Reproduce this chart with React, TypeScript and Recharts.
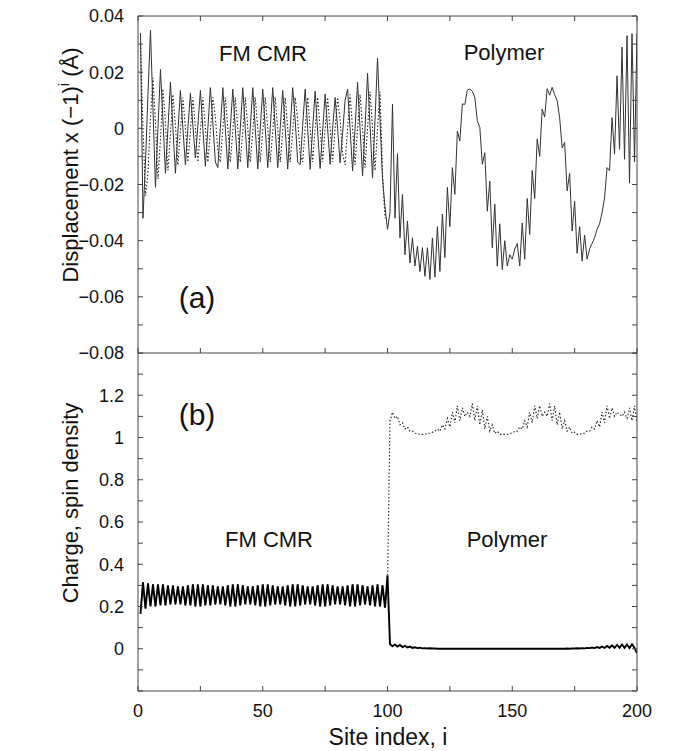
import React from 'react';
import { LineChart, Line, XAxis, YAxis } from 'recharts';

const FONT = '"Liberation Sans", Arial, Helvetica, sans-serif';
const AXIS = '#444';

// site index i = 1..200
const sites = Array.from({ length: 200 }, (_, i) => i + 1);
const siteTicks = [0, 25, 50, 75, 100, 125, 150, 175, 200];
const siteLabels = [0, 50, 100, 150, 200];

const dispTicks = [-0.08, -0.07, -0.06, -0.05, -0.04, -0.03, -0.02, -0.01, 0, 0.01, 0.02, 0.03, 0.04];
const dispLabels = [-0.08, -0.06, -0.04, -0.02, 0, 0.02, 0.04];
const densTicks = [-0.2, -0.1, 0, 0.1, 0.2, 0.3, 0.4, 0.5, 0.6, 0.7, 0.8, 0.9, 1, 1.1, 1.2, 1.3, 1.4];
const densLabels = [0, 0.2, 0.4, 0.6, 0.8, 1, 1.2];

// panel (a): displacement x (-1)^i, solid curve
const dispSolid = [
  0.034, -0.032, -0.012, 0.012, 0.035, 0.007, -0.021, 0.0, 0.021, 0.003,
  -0.016, 0.0, 0.0165, 0.0, -0.016, -0.001, 0.0135, 0.0, -0.013, 0.0,
  0.0125, 0.001, -0.0105, 0.001, 0.0135, 0.0, -0.0135, 0.0, 0.0145, 0.002,
  -0.012, -0.014, 0.0, 0.0145, 0.0, -0.0145, 0.0, 0.014, 0.0, -0.0145,
  0.0, 0.0145, 0.0, -0.014, 0.0, 0.0145, 0.0, -0.0145, 0.0, 0.014,
  0.0, -0.014, 0.0, 0.0145, 0.0, -0.014, 0.0, 0.0135, 0.0, -0.0145,
  0.0, 0.0145, 0.003, -0.012, -0.013, 0.001, 0.014, 0.0, -0.0146, 0.0,
  0.0132, -0.001, -0.0143, -0.001, 0.0122, 0.0, -0.0128, 0.0, 0.011, 0.0,
  -0.0123, -0.002, 0.01, 0.014, 0.0, -0.0152, 0.0, 0.0164, 0.0, -0.017,
  0.0, 0.0196, 0.001, -0.0176, 0.003, 0.025, 0.003, -0.018, -0.028, -0.036,
  -0.03, 0.0086, -0.032, -0.009, -0.039, -0.0235, -0.045, -0.033, -0.048, -0.039,
  -0.049, -0.042, -0.051, -0.0425, -0.0527, -0.0425, -0.0538, -0.039, -0.053, -0.035,
  -0.051, -0.0305, -0.046, -0.021, -0.035, -0.014, -0.0235, -0.001, -0.0045, 0.0087,
  0.0085, 0.0136, 0.014, 0.0132, 0.011, 0.0027, 0.0003, -0.0128, -0.0087, -0.0295,
  -0.0188, -0.0425, -0.027, -0.0491, -0.034, -0.0503, -0.04, -0.049, -0.045, -0.0466,
  -0.043, -0.041, -0.049, -0.0337, -0.0466, -0.025, -0.0378, -0.015, -0.025, -0.0038,
  -0.01, 0.0069, 0.004, 0.0141, 0.0118, 0.0146, 0.012, 0.0098, 0.0038, -0.007,
  -0.005, -0.0223, -0.016, -0.0366, -0.026, -0.0445, -0.035, -0.0473, -0.038, -0.0466,
  -0.043, -0.041, -0.039, -0.036, -0.034, -0.03, -0.0248, -0.014, -0.015, 0.0038,
  -0.0092, 0.0187, -0.0075, 0.0289, -0.011, 0.033, -0.0195, 0.0337, -0.012, 0.034,
];

// panel (a): dotted curve (FM CMR part only, sites 1..99)
const dispDotted = [
  0.03, 0.0, -0.024, -0.016, 0.004, 0.018, 0.002, -0.018, -0.004, 0.014,
  0.002, -0.015, -0.002, 0.012, 0.001, -0.013, -0.001, 0.011, 0.0, -0.012,
  -0.001, 0.011, 0.0, -0.012, -0.001, 0.011, 0.0, -0.012, -0.001, 0.011,
  0.004, -0.008, -0.012, 0.0, 0.011, 0.0, -0.012, -0.001, 0.011, 0.0,
  -0.012, -0.001, 0.011, 0.0, -0.012, -0.001, 0.011, 0.0, -0.012, -0.001,
  0.011, 0.0, -0.012, -0.001, 0.011, 0.0, -0.012, -0.001, 0.011, 0.0,
  -0.012, -0.001, 0.011, 0.003, -0.009, -0.012, 0.0, 0.011, 0.0, -0.012,
  0.0, 0.011, 0.0, -0.012, 0.0, 0.011, 0.0, -0.012, 0.0, 0.011,
  0.003, -0.009, -0.013, 0.0, 0.012, 0.0, -0.013, 0.0, 0.012, 0.0,
  -0.014, 0.0, 0.013, 0.0, -0.015, 0.0, 0.013, -0.016, -0.032,
];

// panel (b): charge density (thick solid)
const charge = [
  0.165, 0.315, 0.19, 0.31, 0.2, 0.305, 0.2, 0.305, 0.205, 0.305,
  0.205, 0.3, 0.21, 0.3, 0.21, 0.295, 0.21, 0.295, 0.205, 0.3,
  0.205, 0.305, 0.2, 0.305, 0.2, 0.305, 0.205, 0.3, 0.205, 0.3,
  0.21, 0.295, 0.21, 0.295, 0.205, 0.3, 0.2, 0.305, 0.2, 0.305,
  0.205, 0.3, 0.21, 0.295, 0.21, 0.295, 0.205, 0.3, 0.2, 0.305,
  0.2, 0.305, 0.205, 0.3, 0.21, 0.295, 0.21, 0.295, 0.205, 0.3,
  0.2, 0.305, 0.2, 0.305, 0.205, 0.3, 0.21, 0.295, 0.21, 0.295,
  0.205, 0.3, 0.2, 0.305, 0.2, 0.305, 0.205, 0.3, 0.21, 0.295,
  0.21, 0.295, 0.205, 0.3, 0.2, 0.305, 0.2, 0.305, 0.205, 0.3,
  0.21, 0.295, 0.205, 0.3, 0.2, 0.305, 0.2, 0.3, 0.195, 0.347,
  0.022, 0.012, 0.02, 0.01, 0.018, 0.008, 0.014, 0.006, 0.01, 0.004,
  0.007, 0.003, 0.005, 0.002, 0.003, 0.001, 0.002, 0.001, 0.001, 0.0,
  0, 0, 0, 0, 0, 0, 0, 0, 0, 0,
  0, 0, 0, 0, 0, 0, 0, 0, 0, 0,
  0, 0, 0, 0, 0, 0, 0, 0, 0, 0,
  0, 0, 0, 0, 0, 0, 0, 0, 0, 0,
  0, 0, 0, 0, 0, 0, 0, 0, 0, 0,
  0.0, 0.001, 0.0, 0.001, 0.001, 0.002, 0.001, 0.003, 0.002, 0.004,
  0.003, 0.006, 0.003, 0.008, 0.004, 0.01, 0.004, 0.013, 0.005, 0.016,
  0.004, 0.018, 0.005, 0.02, 0.004, 0.02, 0.003, 0.021, 0.004, -0.02,
];

// panel (b): spin density in the polymer part (sites 101..200)
const spinPolymer = [
  1.08, 1.12, 1.09, 1.1, 1.06, 1.07, 1.04, 1.05, 1.03, 1.03,
  1.02, 1.02, 1.015, 1.015, 1.015, 1.02, 1.02, 1.025, 1.03, 1.04,
  1.03, 1.06, 1.04, 1.09, 1.05, 1.12, 1.07, 1.15, 1.08, 1.14,
  1.1, 1.12, 1.1, 1.16, 1.08, 1.15, 1.06, 1.13, 1.04, 1.1,
  1.03, 1.06, 1.02, 1.03, 1.015, 1.015, 1.015, 1.015, 1.02, 1.02,
  1.03, 1.03, 1.05, 1.04, 1.08, 1.05, 1.12, 1.07, 1.15, 1.09,
  1.15, 1.1, 1.12, 1.1, 1.16, 1.08, 1.15, 1.06, 1.12, 1.04,
  1.08, 1.03, 1.05, 1.02, 1.025, 1.015, 1.015, 1.02, 1.02, 1.03,
  1.03, 1.05, 1.04, 1.08, 1.05, 1.12, 1.07, 1.15, 1.09, 1.14,
  1.1, 1.12, 1.11, 1.1, 1.12, 1.09, 1.14, 1.08, 1.15, 1.07,
];
// in the FM CMR part the spin density sits on the charge curve
const spin = [0.2, 0.3, ...charge.slice(2, 99), 0.3, ...spinPolymer];

const topData = sites.map((site, i) => ({ site, solid: dispSolid[i], dotted: dispDotted[i] ?? null }));
const bottomData = sites.map((site, i) => ({ site, charge: charge[i], spin: spin[i] }));

const hasLabel = (list: number[], v: number) => list.some((t) => Math.abs(t - v) < 1e-9);
const fmt = (v: number) => (v < 0 ? '\u2212' + String(Math.abs(v)) : String(v));

const LeftTick = (props: any) => {
  const { x, y, payload, labels } = props;
  return (
    <g>
      <line x1={x} x2={x + 5} y1={y} y2={y} stroke={AXIS} />
      {labels && hasLabel(labels, payload.value) && (
        <text x={x - 14} y={y} dy="0.36em" textAnchor="end" fontSize={18} fontFamily={FONT} fill="#111">
          {fmt(payload.value)}
        </text>
      )}
    </g>
  );
};

const RightTick = (props: any) => {
  const { x, y } = props;
  return <line x1={x - 5} x2={x} y1={y} y2={y} stroke={AXIS} />;
};

const TopTick = (props: any) => {
  const { x, y } = props;
  return <line x1={x} x2={x} y1={y} y2={y + 5} stroke={AXIS} />;
};

const BottomTick = (props: any) => {
  const { x, y, payload, labels } = props;
  return (
    <g>
      <line x1={x} x2={x} y1={y - 5} y2={y} stroke={AXIS} />
      {labels && hasLabel(labels, payload.value) && (
        <text x={x} y={y + 26} textAnchor="middle" fontSize={18} fontFamily={FONT} fill="#111">
          {payload.value}
        </text>
      )}
    </g>
  );
};

const axisCommon = {
  tickSize: 0,
  tickMargin: 0,
  tickLine: false,
  interval: 0 as const,
  axisLine: { stroke: AXIS, strokeWidth: 1 },
  allowDataOverflow: true,
};

const W = 660;

export default function App() {
  return (
    <div style={{ position: 'relative', width: W, height: 743, fontFamily: FONT }}>
      <div style={{ position: 'absolute', left: 0, top: -8 }}>
        <LineChart width={W} height={370} data={topData} margin={{ top: 0, right: 0, bottom: 0, left: 0 }}>
          <XAxis xAxisId="b" dataKey="site" type="number" domain={[0, 200]} ticks={siteTicks} height={17} tick={<BottomTick />} {...axisCommon} />
          <XAxis xAxisId="t" orientation="top" dataKey="site" type="number" domain={[0, 200]} ticks={siteTicks} height={16} tick={<TopTick />} {...axisCommon} />
          <YAxis yAxisId="l" type="number" domain={[-0.08, 0.04]} ticks={dispTicks} width={130} tick={<LeftTick labels={dispLabels} />} {...axisCommon} />
          <YAxis yAxisId="r" orientation="right" type="number" domain={[-0.08, 0.04]} ticks={dispTicks} width={31} tick={<RightTick />} {...axisCommon} />
          <Line xAxisId="b" yAxisId="l" dataKey="dotted" type="linear" stroke="#222" strokeWidth={1.1} strokeDasharray="1.5 2" dot={false} isAnimationActive={false} />
          <Line xAxisId="b" yAxisId="l" dataKey="solid" type="linear" stroke="#333" strokeWidth={1} dot={false} isAnimationActive={false} />
        </LineChart>
      </div>
      <div style={{ position: 'absolute', left: 0, top: 345 }}>
        <LineChart width={W} height={398} data={bottomData} margin={{ top: 0, right: 0, bottom: 0, left: 0 }}>
          <XAxis xAxisId="b" dataKey="site" type="number" domain={[0, 200]} ticks={siteTicks} height={60} tick={<BottomTick labels={siteLabels} />} {...axisCommon} />
          <XAxis xAxisId="t" orientation="top" dataKey="site" type="number" domain={[0, 200]} ticks={siteTicks} height={0} tick={<TopTick />} {...axisCommon} />
          <YAxis yAxisId="l" type="number" domain={[-0.2, 1.4]} ticks={densTicks} width={130} tick={<LeftTick labels={densLabels} />} {...axisCommon} />
          <YAxis yAxisId="r" orientation="right" type="number" domain={[-0.2, 1.4]} ticks={densTicks} width={31} tick={<RightTick />} {...axisCommon} />
          <Line xAxisId="b" yAxisId="l" dataKey="spin" type="linear" stroke="#222" strokeWidth={1.1} strokeDasharray="1.5 2" dot={false} isAnimationActive={false} />
          <Line xAxisId="b" yAxisId="l" dataKey="charge" type="linear" stroke="#000" strokeWidth={1.9} dot={false} isAnimationActive={false} />
        </LineChart>
      </div>
      <svg width={W} height={743} style={{ position: 'absolute', left: 0, top: 0, pointerEvents: 'none' }}>
        <g fontFamily={FONT} fill="#111">
          <text x={70} y={157} transform="rotate(-90 70 157)" textAnchor="middle" fontSize={22}>
            Displacement x (−1)<tspan dy={-9} fontSize={15}>i</tspan>
            <tspan dy={9}> (Å)</tspan>
          </text>
          <text x={70} y={495} transform="rotate(-90 70 495)" textAnchor="middle" fontSize={22}>
            Charge, spin density
          </text>
          <text x={189} y={300} textAnchor="middle" fontSize={30}>(a)</text>
          <text x={189} y={417} textAnchor="middle" fontSize={30}>(b)</text>
          <text x={255} y={53} textAnchor="middle" fontSize={22}>FM CMR</text>
          <text x={496} y={52} textAnchor="middle" fontSize={22}>Polymer</text>
          <text x={261} y={539} textAnchor="middle" fontSize={22}>FM CMR</text>
          <text x={499} y={539} textAnchor="middle" fontSize={22}>Polymer</text>
          <text x={380} y={737} textAnchor="middle" fontSize={23}>Site index, i</text>
        </g>
      </svg>
    </div>
  );
}
